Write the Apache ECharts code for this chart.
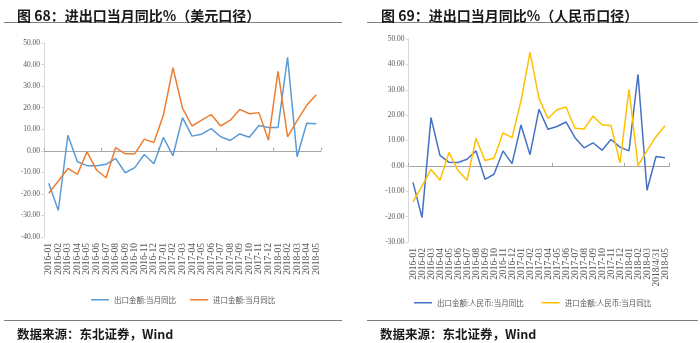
<!DOCTYPE html>
<html>
<head>
<meta charset="utf-8">
<script src="https://cdn.jsdelivr.net/npm/echarts@6/dist/echarts.min.js"></script>
<style>
html,body{margin:0;padding:0;background:#fff;}
#c{width:700px;height:343px;}
</style>
</head>
<body>
<div id="c"></div>
<script>
// Categories
var catsUSD = ['2016-01','2016-02','2016-03','2016-04','2016-05','2016-06','2016-07','2016-08','2016-09','2016-10','2016-11','2016-12',
  '2017-01','2017-02','2017-03','2017-04','2017-05','2017-06','2017-07','2017-08','2017-09','2017-10','2017-11','2017-12',
  '2018-01','2018-02','2018-03','2018-04','2018-05'];
var catsRMB = ['2016-01','2016-02','2016-03','2016-04','2016-05','2016-06','2016-07','2016-08','2016-09','2016-10','2016-11','2016-12',
  '2017-01','2017-02','2017-03','2017-04','2017-05','2017-06','2017-07','2017-08','2017-09','2017-10','2017-11','2017-12',
  '2018-01','2018-02','2018-03','2018/4/31','2018-05'];

// Series values (%)
var exportUSD = [-15.1,-27.7,7.2,-5.1,-6.9,-6.9,-6.3,-3.5,-10.2,-7.8,-1.7,-6.0,
  6.2,-2.3,15.4,6.8,7.7,10.3,6.5,4.8,7.8,6.3,11.7,10.8,
  10.8,43.4,-2.8,12.8,12.5];
var importUSD = [-19.7,-14.0,-8.2,-10.9,-0.5,-8.9,-12.5,1.5,-1.4,-1.4,5.4,3.8,
  16.5,38.5,19.8,11.5,14.2,16.8,11.5,14.2,19.2,17.2,17.7,4.9,
  36.9,6.5,14.0,21.1,26.0];
var exportRMB = [-6.5,-20.4,19.0,4.1,1.4,1.3,2.6,5.9,-5.3,-3.3,5.9,0.9,
  16.1,4.4,22.3,14.4,15.5,17.3,11.1,7.1,9.1,6.2,10.4,7.4,
  5.9,36.1,-9.6,3.7,3.2];
var importRMB = [-14.2,-8.0,-1.4,-5.7,5.3,-1.8,-5.7,10.8,2.1,3.0,13.0,11.1,
  25.6,44.7,26.6,18.7,22.1,23.2,14.8,14.5,19.6,16.2,15.9,1.2,
  30.2,0.1,6.0,11.5,15.8];

// Names
var nameExpUSD = '出口金额:当月同比';
var nameImpUSD = '进口金额:当月同比';
var nameExpRMB = '出口金额:人民币:当月同比';
var nameImpRMB = '进口金额:人民币:当月同比';
var titleL = '图 68：进出口当月同比%（美元口径）';
var titleR = '图 69：进出口当月同比%（人民币口径）';
var source = '数据来源：东北证券，Wind';

var numFont = 'Liberation Serif';
var cjk = '"Noto Sans CJK SC"';

function labelAxis(gridIndex, cats) {
  return {
    type: 'category', gridIndex: gridIndex, data: cats, position: 'bottom',
    boundaryGap: true,
    axisLine: { show: false, onZero: false },
    axisTick: { show: false },
    axisLabel: { rotate: 90, interval: 0, margin: 6, fontSize: 9.5, color: '#595959', fontFamily: numFont }
  };
}
function zeroAxis(gridIndex, cats) {
  return {
    type: 'category', gridIndex: gridIndex, data: cats, position: 'bottom',
    boundaryGap: true,
    axisLine: { show: true, onZero: true, lineStyle: { color: '#a6a6a6', width: 1 } },
    axisTick: { show: true, inside: true, length: 3, lineStyle: { color: '#a6a6a6' } },
    axisLabel: { show: false }
  };
}
function valAxis(gridIndex, min, max) {
  return {
    type: 'value', gridIndex: gridIndex, min: min, max: max, interval: 10,
    splitLine: { show: false },
    axisLine: { show: true, lineStyle: { color: '#d9d9d9' } },
    axisTick: { show: true, length: 3, lineStyle: { color: '#d9d9d9' } },
    axisLabel: { margin: 4, fontSize: 7.5, color: '#595959', fontFamily: numFont,
      formatter: function (v) { return v.toFixed(2); } }
  };
}

var chart = echarts.init(document.getElementById('c'), null, { renderer: 'canvas' });
chart.setOption({
  animation: false,
  backgroundColor: '#ffffff',
  title: [
    { text: titleL, left: 12, top: 4, textStyle: { fontSize: 14, fontWeight: 'bold', color: '#1a1a1a', fontFamily: cjk } },
    { text: titleR, left: 376, top: 4, textStyle: { fontSize: 14, fontWeight: 'bold', color: '#1a1a1a', fontFamily: cjk } },
    { text: source, left: 12, top: 323, textStyle: { fontSize: 12.5, fontWeight: 'bold', color: '#1a1a1a', fontFamily: cjk } },
    { text: source, left: 375, top: 323, textStyle: { fontSize: 12.5, fontWeight: 'bold', color: '#1a1a1a', fontFamily: cjk } }
  ],
  graphic: [
    { type: 'line', shape: { x1: 4, y1: 22.5, x2: 342, y2: 22.5 }, style: { stroke: '#7f7f7f', lineWidth: 1 } },
    { type: 'line', shape: { x1: 367, y1: 22.5, x2: 698, y2: 22.5 }, style: { stroke: '#7f7f7f', lineWidth: 1 } },
    { type: 'line', shape: { x1: 4, y1: 320.5, x2: 342, y2: 320.5 }, style: { stroke: '#7f7f7f', lineWidth: 1 } },
    { type: 'line', shape: { x1: 367, y1: 320.5, x2: 698, y2: 320.5 }, style: { stroke: '#7f7f7f', lineWidth: 1 } }
  ],
  legend: [
    { data: [nameExpUSD, nameImpUSD], left: 86, top: 291, icon: 'rect', itemWidth: 18, itemHeight: 1.5, itemGap: 14,
      textStyle: { fontSize: 7.5, color: '#595959', fontFamily: cjk } },
    { data: [nameExpRMB, nameImpRMB], left: 409, top: 294, icon: 'rect', itemWidth: 18, itemHeight: 1.5, itemGap: 18,
      textStyle: { fontSize: 7.5, color: '#595959', fontFamily: cjk } }
  ],
  grid: [
    { left: 44, top: 43, width: 277, height: 194, containLabel: false },
    { left: 408.5, top: 39, width: 261, height: 203, containLabel: false }
  ],
  xAxis: [ labelAxis(0, catsUSD), zeroAxis(0, catsUSD), labelAxis(1, catsRMB), zeroAxis(1, catsRMB) ],
  yAxis: [ valAxis(0, -40, 50), valAxis(1, -30, 50) ],
  series: [
    { name: nameExpUSD, type: 'line', xAxisIndex: 0, yAxisIndex: 0, data: exportUSD, symbol: 'none',
      itemStyle: { color: '#5B9BD5' }, lineStyle: { color: '#5B9BD5', width: 1.5 } },
    { name: nameImpUSD, type: 'line', xAxisIndex: 0, yAxisIndex: 0, data: importUSD, symbol: 'none',
      itemStyle: { color: '#ED7D31' }, lineStyle: { color: '#ED7D31', width: 1.5 } },
    { name: nameExpRMB, type: 'line', xAxisIndex: 2, yAxisIndex: 1, data: exportRMB, symbol: 'none',
      itemStyle: { color: '#4472C4' }, lineStyle: { color: '#4472C4', width: 1.5 } },
    { name: nameImpRMB, type: 'line', xAxisIndex: 2, yAxisIndex: 1, data: importRMB, symbol: 'none',
      itemStyle: { color: '#FFC000' }, lineStyle: { color: '#FFC000', width: 1.5 } }
  ]
});
</script>
</body>
</html>
